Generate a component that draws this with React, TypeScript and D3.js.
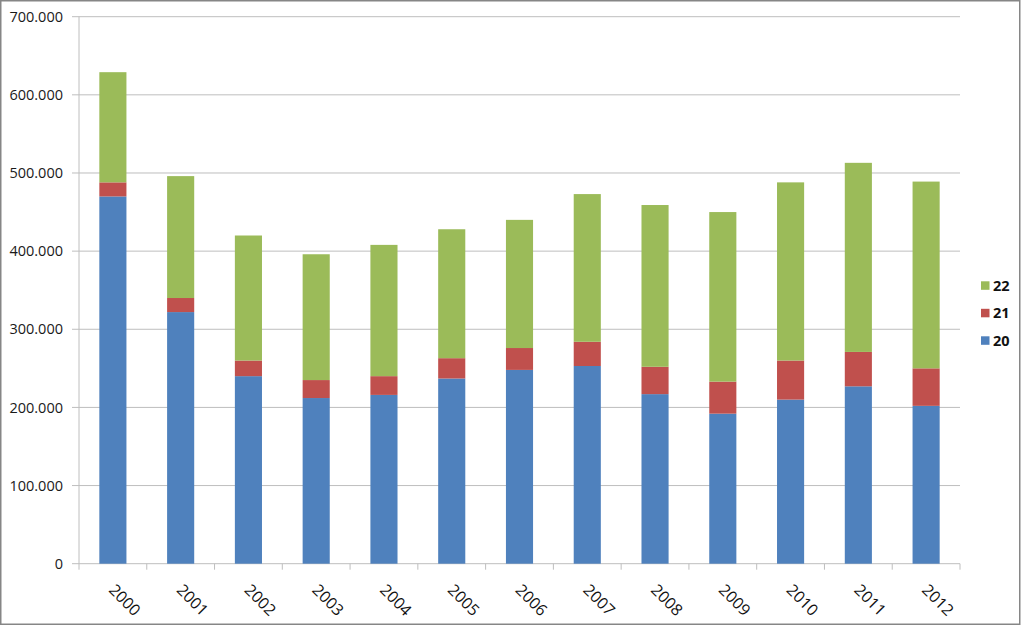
import React from "react";
import * as d3 from "d3";

const years = ["2000","2001","2002","2003","2004","2005","2006","2007","2008","2009","2010","2011","2012"];
const s20 = [470, 322, 240, 212, 216, 237, 248, 253, 217, 192, 210, 227, 202];
const s21 = [18, 18, 20, 23, 24, 26, 28, 31, 35, 41, 50, 44, 48];
const s22 = [141, 156, 160, 161, 168, 165, 164, 189, 207, 217, 228, 242, 239];
const seriesKeys = ["20", "21", "22"];
const seriesColors = ["#4F81BD", "#C0504D", "#9BBB59"];
const yTicks = [0, 100, 200, 300, 400, 500, 600, 700];

const W = 1024, H = 627;
const left = 79, right = 960, top = 16.7, bottom = 563.7;

export default function App() {
  const rows = years.map((y, i) => ({ year: y, "20": s20[i], "21": s21[i], "22": s22[i] }));
  const stack = d3.stack<any>().keys(seriesKeys)(rows);
  const x = d3.scaleBand().domain(years).range([left, right]).paddingInner(0.6).paddingOuter(0.3);
  const xb = d3.scaleBand().domain(years).range([left, right]);
  const y = d3.scaleLinear().domain([0, 700]).range([bottom, top]);
  const fmt = (v: number) => (v === 0 ? "0" : `${v}.000`);
  const font = "'Open Sans', 'DejaVu Sans', sans-serif";
  return (
    <>
      <style>{`body{margin:0}`}</style>
      <svg width={W} height={H} style={{ display: "block" }}>
        <rect x={0} y={0} width={W} height={H} fill="#fff" />
        <rect x={0.75} y={0.75} width={1019} height={623.5} fill="none" stroke="#868686" strokeWidth={1.5} />
        {yTicks.map((t) => (
          <g key={t}>
            <line x1={left - 7} x2={right} y1={y(t)} y2={y(t)} stroke="#BEBEBE" strokeWidth={1} />
            <text x={63} y={y(t)} dy="0.36em" textAnchor="end" fontFamily={font} fontSize={14.5} fill="#1a1a1a">{fmt(t)}</text>
          </g>
        ))}
        <line x1={left} x2={left} y1={top} y2={bottom} stroke="#BEBEBE" />
        {years.map((yr) => (
          <line key={yr} x1={xb(yr)!} x2={xb(yr)!} y1={bottom} y2={bottom + 6} stroke="#BEBEBE" />
        ))}
        <line x1={right} x2={right} y1={bottom} y2={bottom + 6} stroke="#BEBEBE" />
        {stack.map((layer, li) => (
          <g key={layer.key} fill={seriesColors[li]}>
            {layer.map((d: any, i: number) => (
              <rect key={i} x={x(years[i])!} width={x.bandwidth()} y={y(d[1])} height={y(d[0]) - y(d[1])} />
            ))}
          </g>
        ))}
        {years.map((yr) => {
          const cx = xb(yr)! + xb.bandwidth() / 2 - 5;
          return (
            <text key={yr} transform={`translate(${cx},591) rotate(45)`} fontFamily={font} fontSize={16} fill="#111">{yr}</text>
          );
        })}
        {[2, 1, 0].map((si, k) => {
          const cy = 285.5 + k * 27.5;
          return (
            <g key={si}>
              <rect x={981} y={cy - 4.2} width={8.5} height={8.5} fill={seriesColors[si]} />
              <text x={993} y={cy} dy="0.36em" fontFamily={font} fontSize={14.5} fontWeight="bold" fill="#111">{seriesKeys[si]}</text>
            </g>
          );
        })}
      </svg>
    </>
  );
}
